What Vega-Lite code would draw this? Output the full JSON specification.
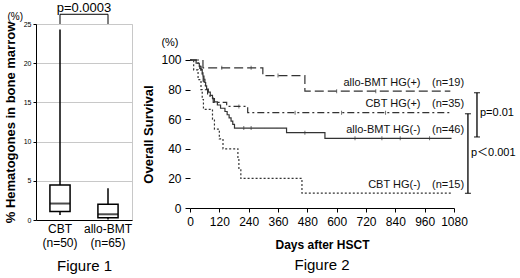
{
  "$schema": "https://vega.github.io/schema/vega-lite/v6.json",
  "padding": {"left": 3, "top": 1, "right": 0, "bottom": 0},
  "background": "white",
  "config": {
    "font": "Liberation Sans, Arial, Noto Sans CJK JP, sans-serif",
    "axis": {"labelColor": "black", "titleColor": "black", "domainColor": "black", "tickColor": "black", "labelFont": "Liberation Sans, Arial, Noto Sans CJK JP, sans-serif", "titleFont": "Liberation Sans, Arial, Noto Sans CJK JP, sans-serif"},
    "title": {"font": "Liberation Sans, Arial, Noto Sans CJK JP, sans-serif", "color": "black"},
    "text": {"font": "Liberation Sans, Arial, Noto Sans CJK JP, sans-serif"}
  },
  "spacing": 9,
  "hconcat": [
    {
      "width": 96,
      "height": 196,
      "view": {"stroke": "#c8c8c8"},
      "data": {"values": [
        {"group": "CBT", "min": 0.64, "q1": 1.1, "median": 2.1, "q3": 4.46, "max": 24.3},
        {"group": "allo-BMT", "min": 0.05, "q1": 0.3, "median": 0.73, "q3": 2.0, "max": 4.04}
      ]},
      "encoding": {
        "x": {
          "field": "group", "type": "nominal", "sort": ["CBT", "allo-BMT"],
          "scale": {"paddingInner": 0, "paddingOuter": 0},
          "axis": {
            "title": "Figure 1", "titleFontSize": 15, "titleFontWeight": "normal", "titlePadding": 10,
            "labelAngle": 0, "labelFontSize": 12, "labelLineHeight": 14, "labelPadding": 3, "ticks": false,
            "labelExpr": "datum.value == 'CBT' ? ['CBT', '(n=50)'] : ['allo-BMT', '(n=65)']"
          }
        }
      },
      "layer": [
        {
          "mark": {"type": "rule", "color": "black", "strokeWidth": 1.5},
          "encoding": {
            "y": {
              "field": "min", "type": "quantitative", "scale": {"domain": [0, 25], "nice": false},
              "title": "% Hematogones in bone marrow",
              "axis": {"values": [0, 5, 10, 15, 20, 25], "tickCount": 30, "labelOverlap": false, "grid": true, "gridColor": "#c8c8c8", "labelFontSize": 7, "tickSize": 3, "labelPadding": 2, "titleFontSize": 13, "titleFontWeight": "bold", "titlePadding": 6}
            },
            "y2": {"field": "max"}
          }
        },
        {
          "mark": {"type": "bar", "fill": "white", "stroke": "black", "strokeWidth": 1.5, "width": {"band": 0.42}},
          "encoding": {
            "y": {"field": "q1", "type": "quantitative", "title": "% Hematogones in bone marrow"},
            "y2": {"field": "q3"}
          }
        },
        {
          "mark": {"type": "tick", "color": "black", "size": 20, "thickness": 2, "orient": "horizontal"},
          "encoding": {
            "y": {"field": "median", "type": "quantitative", "title": "% Hematogones in bone marrow"}
          }
        },
        {
          "mark": {"type": "rule", "color": "black", "strokeWidth": 1, "clip": false},
          "encoding": {
            "y": {"datum": 25.0, "type": "quantitative"},
            "y2": {"datum": 26.24}
          }
        },
        {
          "data": {"values": [{"from": "CBT", "to": "allo-BMT", "p": "p=0.0003"}]},
          "mark": {"type": "rule", "color": "black", "strokeWidth": 1, "clip": false},
          "encoding": {
            "x": {"field": "from", "type": "nominal"},
            "x2": {"field": "to"},
            "y": {"datum": 26.24, "type": "quantitative"}
          }
        },
        {
          "data": {"values": [{"from": "CBT", "to": "allo-BMT", "p": "p=0.0003"}]},
          "mark": {"type": "text", "fontSize": 13, "color": "black", "align": "center", "baseline": "middle"},
          "encoding": {
            "x": {"field": "from", "type": "nominal", "bandPosition": 1},
            "y": {"datum": 27.05, "type": "quantitative"},
            "text": {"field": "p"}
          }
        },
        {
          "data": {"values": [{"from": "CBT", "unit": "(%)"}]},
          "mark": {"type": "text", "fontSize": 10, "color": "black", "align": "right", "baseline": "middle", "dx": -13},
          "encoding": {
            "x": {"field": "from", "type": "nominal", "bandPosition": 0},
            "y": {"datum": 25.9, "type": "quantitative"},
            "text": {"field": "unit"}
          }
        }
      ]
    },
    {
      "width": 264,
      "height": 184,
      "view": {"stroke": null},
      "title": {"text": "Figure 2", "orient": "bottom", "fontSize": 15, "fontWeight": "normal", "offset": 8, "anchor": "middle"},
      "layer": [
        {
          "data": {"values": [
            {"series": "allo-BMT HG(+)", "day": 0, "surv": 100},
            {"series": "allo-BMT HG(+)", "day": 53, "surv": 94.7},
            {"series": "allo-BMT HG(+)", "day": 298, "surv": 89.5},
            {"series": "allo-BMT HG(+)", "day": 470, "surv": 78.9},
            {"series": "allo-BMT HG(+)", "day": 1065, "surv": 78.9},
            {"series": "CBT HG(+)", "day": 0, "surv": 100},
            {"series": "CBT HG(+)", "day": 33, "surv": 97.1},
            {"series": "CBT HG(+)", "day": 40, "surv": 94.3},
            {"series": "CBT HG(+)", "day": 45, "surv": 91.4},
            {"series": "CBT HG(+)", "day": 50, "surv": 88.6},
            {"series": "CBT HG(+)", "day": 54, "surv": 85.7},
            {"series": "CBT HG(+)", "day": 58, "surv": 82.9},
            {"series": "CBT HG(+)", "day": 63, "surv": 80.0},
            {"series": "CBT HG(+)", "day": 72, "surv": 77.1},
            {"series": "CBT HG(+)", "day": 82, "surv": 74.3},
            {"series": "CBT HG(+)", "day": 95, "surv": 71.4},
            {"series": "CBT HG(+)", "day": 150, "surv": 68.6},
            {"series": "CBT HG(+)", "day": 236, "surv": 64.4},
            {"series": "CBT HG(+)", "day": 1065, "surv": 64.4},
            {"series": "allo-BMT HG(-)", "day": 0, "surv": 100},
            {"series": "allo-BMT HG(-)", "day": 25, "surv": 97.8},
            {"series": "allo-BMT HG(-)", "day": 38, "surv": 95.7},
            {"series": "allo-BMT HG(-)", "day": 45, "surv": 93.5},
            {"series": "allo-BMT HG(-)", "day": 50, "surv": 91.3},
            {"series": "allo-BMT HG(-)", "day": 53, "surv": 89.1},
            {"series": "allo-BMT HG(-)", "day": 57, "surv": 87.0},
            {"series": "allo-BMT HG(-)", "day": 61, "surv": 84.8},
            {"series": "allo-BMT HG(-)", "day": 64, "surv": 82.6},
            {"series": "allo-BMT HG(-)", "day": 68, "surv": 80.4},
            {"series": "allo-BMT HG(-)", "day": 75, "surv": 78.3},
            {"series": "allo-BMT HG(-)", "day": 83, "surv": 76.1},
            {"series": "allo-BMT HG(-)", "day": 92, "surv": 73.9},
            {"series": "allo-BMT HG(-)", "day": 100, "surv": 71.7},
            {"series": "allo-BMT HG(-)", "day": 112, "surv": 69.6},
            {"series": "allo-BMT HG(-)", "day": 125, "surv": 67.4},
            {"series": "allo-BMT HG(-)", "day": 143, "surv": 65.2},
            {"series": "allo-BMT HG(-)", "day": 152, "surv": 63.0},
            {"series": "allo-BMT HG(-)", "day": 160, "surv": 60.9},
            {"series": "allo-BMT HG(-)", "day": 168, "surv": 58.7},
            {"series": "allo-BMT HG(-)", "day": 175, "surv": 56.5},
            {"series": "allo-BMT HG(-)", "day": 182, "surv": 54.0},
            {"series": "allo-BMT HG(-)", "day": 395, "surv": 50.9},
            {"series": "allo-BMT HG(-)", "day": 552, "surv": 47.1},
            {"series": "allo-BMT HG(-)", "day": 1070, "surv": 47.1},
            {"series": "CBT HG(-)", "day": 0, "surv": 100},
            {"series": "CBT HG(-)", "day": 15, "surv": 93.3},
            {"series": "CBT HG(-)", "day": 33, "surv": 86.7},
            {"series": "CBT HG(-)", "day": 45, "surv": 80.0},
            {"series": "CBT HG(-)", "day": 50, "surv": 73.3},
            {"series": "CBT HG(-)", "day": 55, "surv": 66.7},
            {"series": "CBT HG(-)", "day": 92, "surv": 60.0},
            {"series": "CBT HG(-)", "day": 100, "surv": 53.3},
            {"series": "CBT HG(-)", "day": 120, "surv": 46.7},
            {"series": "CBT HG(-)", "day": 135, "surv": 40.0},
            {"series": "CBT HG(-)", "day": 196, "surv": 33.3},
            {"series": "CBT HG(-)", "day": 200, "surv": 26.7},
            {"series": "CBT HG(-)", "day": 208, "surv": 20.0},
            {"series": "CBT HG(-)", "day": 458, "surv": 10.0},
            {"series": "CBT HG(-)", "day": 1075, "surv": 10.0}
          ]},
          "mark": {"type": "line", "interpolate": "step-after", "color": "#333", "strokeWidth": 1.2, "clip": false},
          "encoding": {
            "x": {
              "field": "day", "type": "quantitative", "scale": {"domain": [0, 1080], "nice": false},
              "axis": {"values": [0, 120, 240, 360, 480, 600, 720, 840, 960, 1080], "format": "d", "tickCount": 30, "labelOverlap": false, "labelFlush": false, "grid": false, "title": "Days after HSCT", "titleFontSize": 12, "titleFontWeight": "bold", "titlePadding": 12, "labelFontSize": 12, "tickSize": 4, "labelPadding": 4}
            },
            "y": {
              "field": "surv", "type": "quantitative", "scale": {"domain": [0, 124.32], "nice": false},
              "axis": {"values": [0, 20, 40, 60, 80, 100], "tickCount": 30, "labelOverlap": false, "labelFlush": false, "grid": false, "domain": false, "title": "Overall Survival", "titleFontSize": 13, "titleFontWeight": "bold", "titlePadding": 5, "titleY": 110, "labelFontSize": 12, "tickSize": 5, "labelPadding": 4}
            },
            "strokeDash": {
              "field": "series", "type": "nominal", "legend": null,
              "scale": {"domain": ["allo-BMT HG(+)", "CBT HG(+)", "allo-BMT HG(-)", "CBT HG(-)"], "range": [[9, 4], [7, 3, 2, 3], [1, 0], [2, 2]]}
            },
            "detail": {"field": "series"}
          }
        },
        {
          "data": {"values": [
            {"day": 130, "surv": 94.7}, {"day": 250, "surv": 94.7}, {"day": 360, "surv": 89.5}, {"day": 600, "surv": 78.9}, {"day": 760, "surv": 78.9},
            {"day": 200, "surv": 68.6}, {"day": 430, "surv": 64.4}, {"day": 620, "surv": 64.4}, {"day": 800, "surv": 64.4},
            {"day": 220, "surv": 54.0}, {"day": 250, "surv": 54.0}, {"day": 470, "surv": 50.9}, {"day": 675, "surv": 47.1}, {"day": 785, "surv": 47.1}, {"day": 860, "surv": 47.1}, {"day": 980, "surv": 47.1}
          ]},
          "mark": {"type": "tick", "orient": "vertical", "size": 4, "thickness": 1, "color": "#333"},
          "encoding": {
            "x": {"field": "day", "type": "quantitative", "title": "Days after HSCT"},
            "y": {"field": "surv", "type": "quantitative", "title": "Overall Survival"}
          }
        },
        {
          "mark": {"type": "rule", "color": "black", "strokeWidth": 1},
          "encoding": {
            "x": {"datum": 0, "type": "quantitative"},
            "y": {"datum": 0, "type": "quantitative"},
            "y2": {"datum": 100}
          }
        },
        {
          "data": {"values": [{"unit": "(%)", "day": -82, "surv": 111.5}]},
          "mark": {"type": "text", "fontSize": 11, "color": "black", "align": "center", "baseline": "middle", "clip": false},
          "encoding": {
            "x": {"field": "day", "type": "quantitative", "title": "Days after HSCT"},
            "y": {"field": "surv", "type": "quantitative", "title": "Overall Survival"},
            "text": {"field": "unit"}
          }
        },
        {
          "data": {"values": [
            {"name": "allo-BMT HG(+)", "n": "(n=19)", "surv": 84.5, "nameEnd": 943, "nStart": 990},
            {"name": "CBT HG(+)", "n": "(n=35)", "surv": 70.3, "nameEnd": 943, "nStart": 990},
            {"name": "allo-BMT HG(-)", "n": "(n=46)", "surv": 52.7, "nameEnd": 943, "nStart": 990},
            {"name": "CBT HG(-)", "n": "(n=15)", "surv": 15.4, "nameEnd": 943, "nStart": 990}
          ]},
          "layer": [
            {
              "mark": {"type": "text", "fontSize": 11, "color": "#111", "align": "right", "baseline": "middle"},
              "encoding": {
                "x": {"field": "nameEnd", "type": "quantitative", "title": "Days after HSCT"},
                "y": {"field": "surv", "type": "quantitative", "title": "Overall Survival"},
                "text": {"field": "name"}
              }
            },
            {
              "mark": {"type": "text", "fontSize": 11, "color": "#111", "align": "left", "baseline": "middle"},
              "encoding": {
                "x": {"field": "nStart", "type": "quantitative", "title": "Days after HSCT"},
                "y": {"field": "surv", "type": "quantitative", "title": "Overall Survival"},
                "text": {"field": "n"}
              }
            }
          ]
        },
        {
          "data": {"values": [
            {"p": "p=0.01", "day": 1174, "top": 77.9, "bottom": 48.0, "mid": 64.2},
            {"p": "p＜0.001", "day": 1137, "top": 63.7, "bottom": 9.9, "mid": 37.4}
          ]},
          "layer": [
            {
              "mark": {"type": "rule", "color": "black", "strokeWidth": 1.3, "clip": false},
              "encoding": {
                "x": {"field": "day", "type": "quantitative", "title": "Days after HSCT"},
                "y": {"field": "top", "type": "quantitative", "title": "Overall Survival"},
                "y2": {"field": "bottom"}
              }
            },
            {
              "mark": {"type": "tick", "orient": "horizontal", "size": 6, "thickness": 1.3, "color": "black", "clip": false},
              "encoding": {
                "x": {"field": "day", "type": "quantitative", "title": "Days after HSCT"},
                "y": {"field": "top", "type": "quantitative", "title": "Overall Survival"}
              }
            },
            {
              "mark": {"type": "tick", "orient": "horizontal", "size": 6, "thickness": 1.3, "color": "black", "clip": false},
              "encoding": {
                "x": {"field": "day", "type": "quantitative", "title": "Days after HSCT"},
                "y": {"field": "bottom", "type": "quantitative", "title": "Overall Survival"}
              }
            },
            {
              "mark": {"type": "text", "fontSize": 11, "color": "black", "align": "left", "baseline": "middle", "dx": 3, "clip": false},
              "encoding": {
                "x": {"field": "day", "type": "quantitative", "title": "Days after HSCT"},
                "y": {"field": "mid", "type": "quantitative", "title": "Overall Survival"},
                "text": {"field": "p"}
              }
            }
          ]
        }
      ]
    }
  ]
}
